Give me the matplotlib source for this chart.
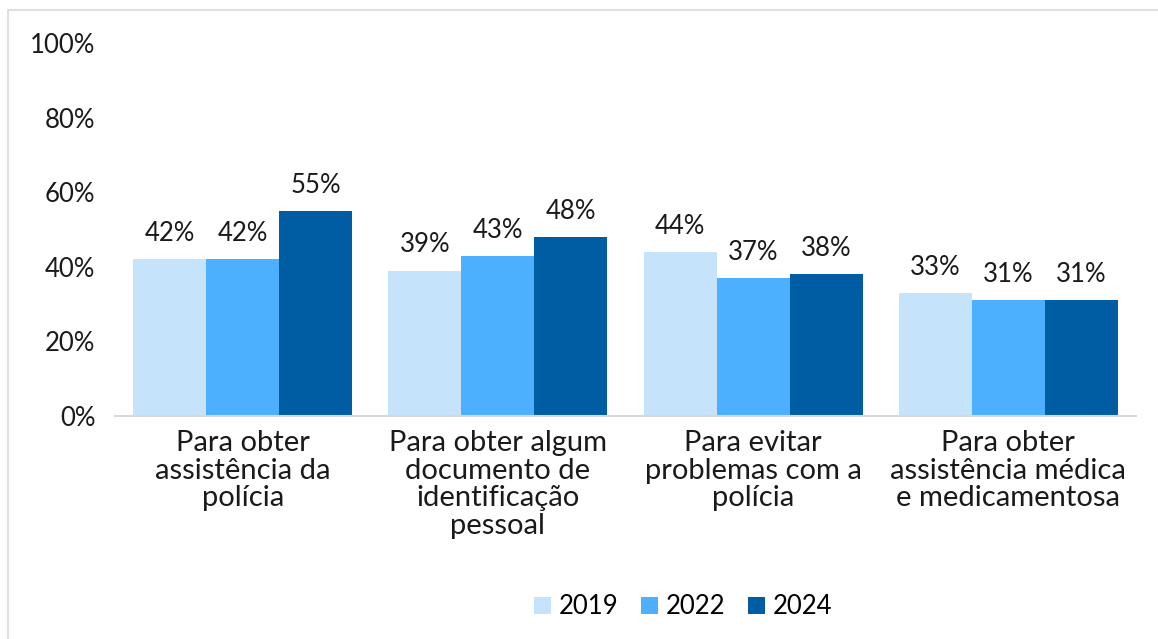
import matplotlib.pyplot as plt
import numpy as np
from matplotlib.patches import Rectangle
from matplotlib.ticker import PercentFormatter

categories = [
    "Para obter\nassistência da\npolícia",
    "Para obter algum\ndocumento de\nidentificação\npessoal",
    "Para evitar\nproblemas com a\npolícia",
    "Para obter\nassistência médica\ne medicamentosa",
]
years = ["2019", "2022", "2024"]
v2019 = [0.42, 0.39, 0.44, 0.33]
v2022 = [0.42, 0.43, 0.37, 0.31]
v2024 = [0.55, 0.48, 0.38, 0.31]
colors = ["#C5E4FC", "#4DB0FF", "#005DA4"]

plt.rcParams['font.family'] = ['Lato', 'DejaVu Sans']

fig = plt.figure(figsize=(11.58, 6.39), dpi=100)
fig.patches.append(Rectangle((8 / 1158, -0.1), 1.2, 1 - 10 / 639 + 0.1,
                             transform=fig.transFigure, fill=False,
                             edgecolor="#D9D9D9", linewidth=1.2))
ax = fig.add_axes([115 / 1158, 1 - 416 / 639, 1021 / 1158, 373 / 639])

x = np.arange(len(categories))
w = 0.286
for i, (vals, yr) in enumerate(zip([v2019, v2022, v2024], years)):
    bars = ax.bar(x + (i - 1) * w, vals, w, color=colors[i], label=yr)
    for b, v in zip(bars, vals):
        ax.text(b.get_x() + b.get_width() / 2, v + 0.035, f"{round(v * 100)}%",
                ha="center", va="bottom", fontsize=18.5, color="#1a1a1a")

ax.set_xlim(-0.5, len(categories) - 0.5)
ax.set_ylim(0, 1)
ax.set_yticks(np.arange(0, 1.01, 0.2))
ax.yaxis.set_major_formatter(PercentFormatter(1, decimals=0))
ax.set_xticks(x)
ax.set_xticklabels(categories, fontsize=21, va="top", linespacing=1.08)
ax.tick_params(axis="both", length=0, labelsize=18.5, colors="#1a1a1a")
ax.tick_params(axis="x", pad=10, labelsize=21)
ax.tick_params(axis="y", pad=14)
for s in ["top", "right", "left"]:
    ax.spines[s].set_visible(False)
ax.spines["bottom"].set_color("#D9D9D9")
ax.spines["bottom"].set_linewidth(1.5)

ax.legend(loc="center", bbox_to_anchor=(683 / 1158, 1 - 607 / 639),
          bbox_transform=fig.transFigure, ncol=3, frameon=False,
          fontsize=18.5, handlelength=0.65, handleheight=0.65,
          handletextpad=0.3, columnspacing=0.9)

fig.savefig("out.png", dpi=100)
